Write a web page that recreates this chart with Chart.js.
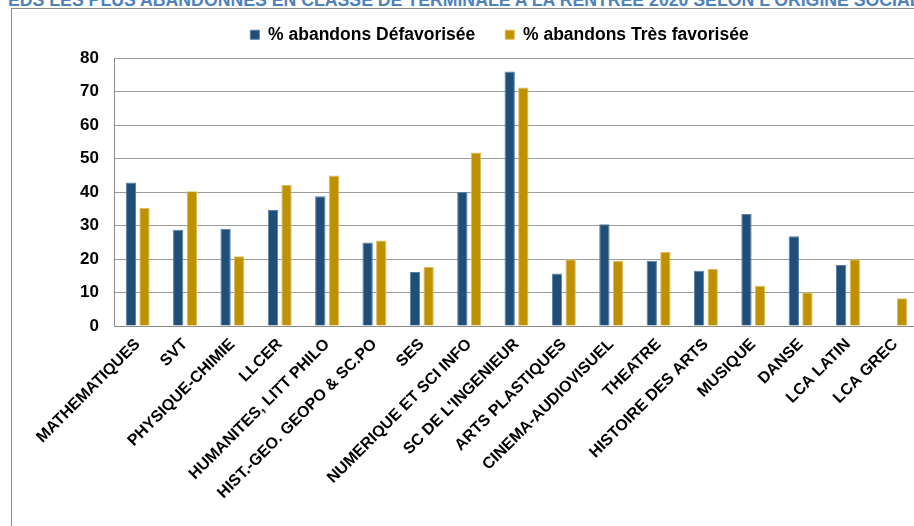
<!DOCTYPE html>
<html lang="fr">
<head>
<meta charset="utf-8">
<title>Abandons par spécialité selon l'origine sociale</title>
<script src="https://cdn.jsdelivr.net/npm/chart.js@4/dist/chart.umd.min.js"></script>
<style>
  html, body { margin: 0; padding: 0; background: #fff; overflow: hidden; }
  body { width: 914px; height: 526px; position: relative; }
  #titre {
    position: absolute; left: 8px; top: -10px; white-space: nowrap;
    font: bold 17.7px "Liberation Sans", Arial, sans-serif; color: #4f81bd;
  }
  #cadre {
    position: absolute; left: 11px; top: 8px; width: 1000px; height: 600px;
    border-left: 1px solid #8c8c8c; border-top: 1px solid #8c8c8c;
  }
  #zone { position: absolute; left: 12px; top: -4px; width: 907px; height: 530px; }
</style>
</head>
<body>
<div id="titre">EDS LES PLUS ABANDONNES EN CLASSE DE TERMINALE A LA RENTREE 2020 SELON L'ORIGINE SOCIALE</div>
<div id="cadre"></div>
<div id="zone"><canvas id="graphique"></canvas></div>

<script>
  // categories (specialites)
  var specialites = [
    'MATHEMATIQUES', 'SVT', 'PHYSIQUE-CHIMIE', 'LLCER', 'HUMANITES, LITT PHILO',
    'HIST.-GEO. GEOPO & SC.PO', 'SES', 'NUMERIQUE ET SCI INFO', "SC DE L'INGENIEUR",
    'ARTS PLASTIQUES', 'CINEMA-AUDIOVISUEL', 'THEATRE', 'HISTOIRE DES ARTS',
    'MUSIQUE', 'DANSE', 'LCA LATIN', 'LCA GREC'
  ];

  // % abandons, origine defavorisee
  var abandonsDefavorisee = [42.8, 28.7, 29.0, 34.6, 38.7, 24.9, 16.1, 40.0, 76.0,
                             15.7, 30.4, 19.5, 16.5, 33.4, 26.8, 18.2, null];

  // % abandons, origine tres favorisee
  var abandonsTresFavorisee = [35.2, 40.2, 20.8, 42.1, 44.9, 25.5, 17.7, 51.8, 71.2,
                               19.9, 19.5, 22.1, 17.0, 12.0, 10.1, 19.9, 8.3];

  var graduationsY = [0, 10, 20, 30, 40, 50, 60, 70, 80];

  // hauteur fixe de la legende (pour caler la zone du graphique)
  var ajusteLegende = {
    id: 'ajusteLegende',
    beforeUpdate: function (chart) {
      if (chart.legend && !chart.legend._ajuste) {
        var fit = chart.legend.fit;
        chart.legend.fit = function () {
          fit.call(this);
          this.height = 62;
        };
        chart.legend._ajuste = true;
      }
    }
  };

  var ctx = document.getElementById('graphique').getContext('2d');
  var graphique = new Chart(ctx, {
    type: 'bar',
    data: {
      labels: specialites,
      datasets: [{
        label: '% abandons Défavorisée',
        data: abandonsDefavorisee,
        backgroundColor: '#1f4e79',
        borderColor: '#5a7fa3',
        borderWidth: 1,
        barPercentage: 0.76,
        categoryPercentage: 0.575
      }, {
        label: '% abandons Très favorisée',
        data: abandonsTresFavorisee,
        backgroundColor: '#bf9000',
        borderColor: '#dcbc5c',
        borderWidth: 1,
        barPercentage: 0.76,
        categoryPercentage: 0.575
      }]
    },
    options: {
      responsive: true,
      maintainAspectRatio: false,
      animation: false,
      layout: { padding: { left: 68, right: 0, top: 0, bottom: 0 } },
      plugins: {
        legend: {
          position: 'top',
          labels: {
            boxWidth: 9,
            boxHeight: 9,
            padding: 30,
            color: '#000',
            font: { family: '"Liberation Sans", Arial, sans-serif', size: 17.5, weight: 'bold' }
          }
        },
        tooltip: { enabled: false }
      },
      scales: {
        x: {
          grid: { display: false },
          border: { display: true, color: '#8c8c8c' },
          ticks: {
            minRotation: 45,
            maxRotation: 45,
            autoSkip: false,
            padding: 1,
            color: '#000',
            font: { family: '"Liberation Sans", Arial, sans-serif', size: 16, weight: 'bold' }
          },
          afterFit: function (scale) { scale.height = 200; }
        },
        y: {
          min: 0,
          max: 80,
          afterBuildTicks: function (scale) {
            scale.ticks = graduationsY.map(function (v) { return { value: v }; });
          },
          grid: { color: '#9c9c9c', lineWidth: 1, drawTicks: false },
          border: { display: true, color: '#8c8c8c' },
          ticks: {
            padding: 15,
            color: '#000',
            font: { family: '"Liberation Sans", Arial, sans-serif', size: 17, weight: 'bold' }
          },
          afterFit: function (scale) { scale.width = 34; }
        }
      }
    },
    plugins: [ajusteLegende]
  });
</script>
</body>
</html>
